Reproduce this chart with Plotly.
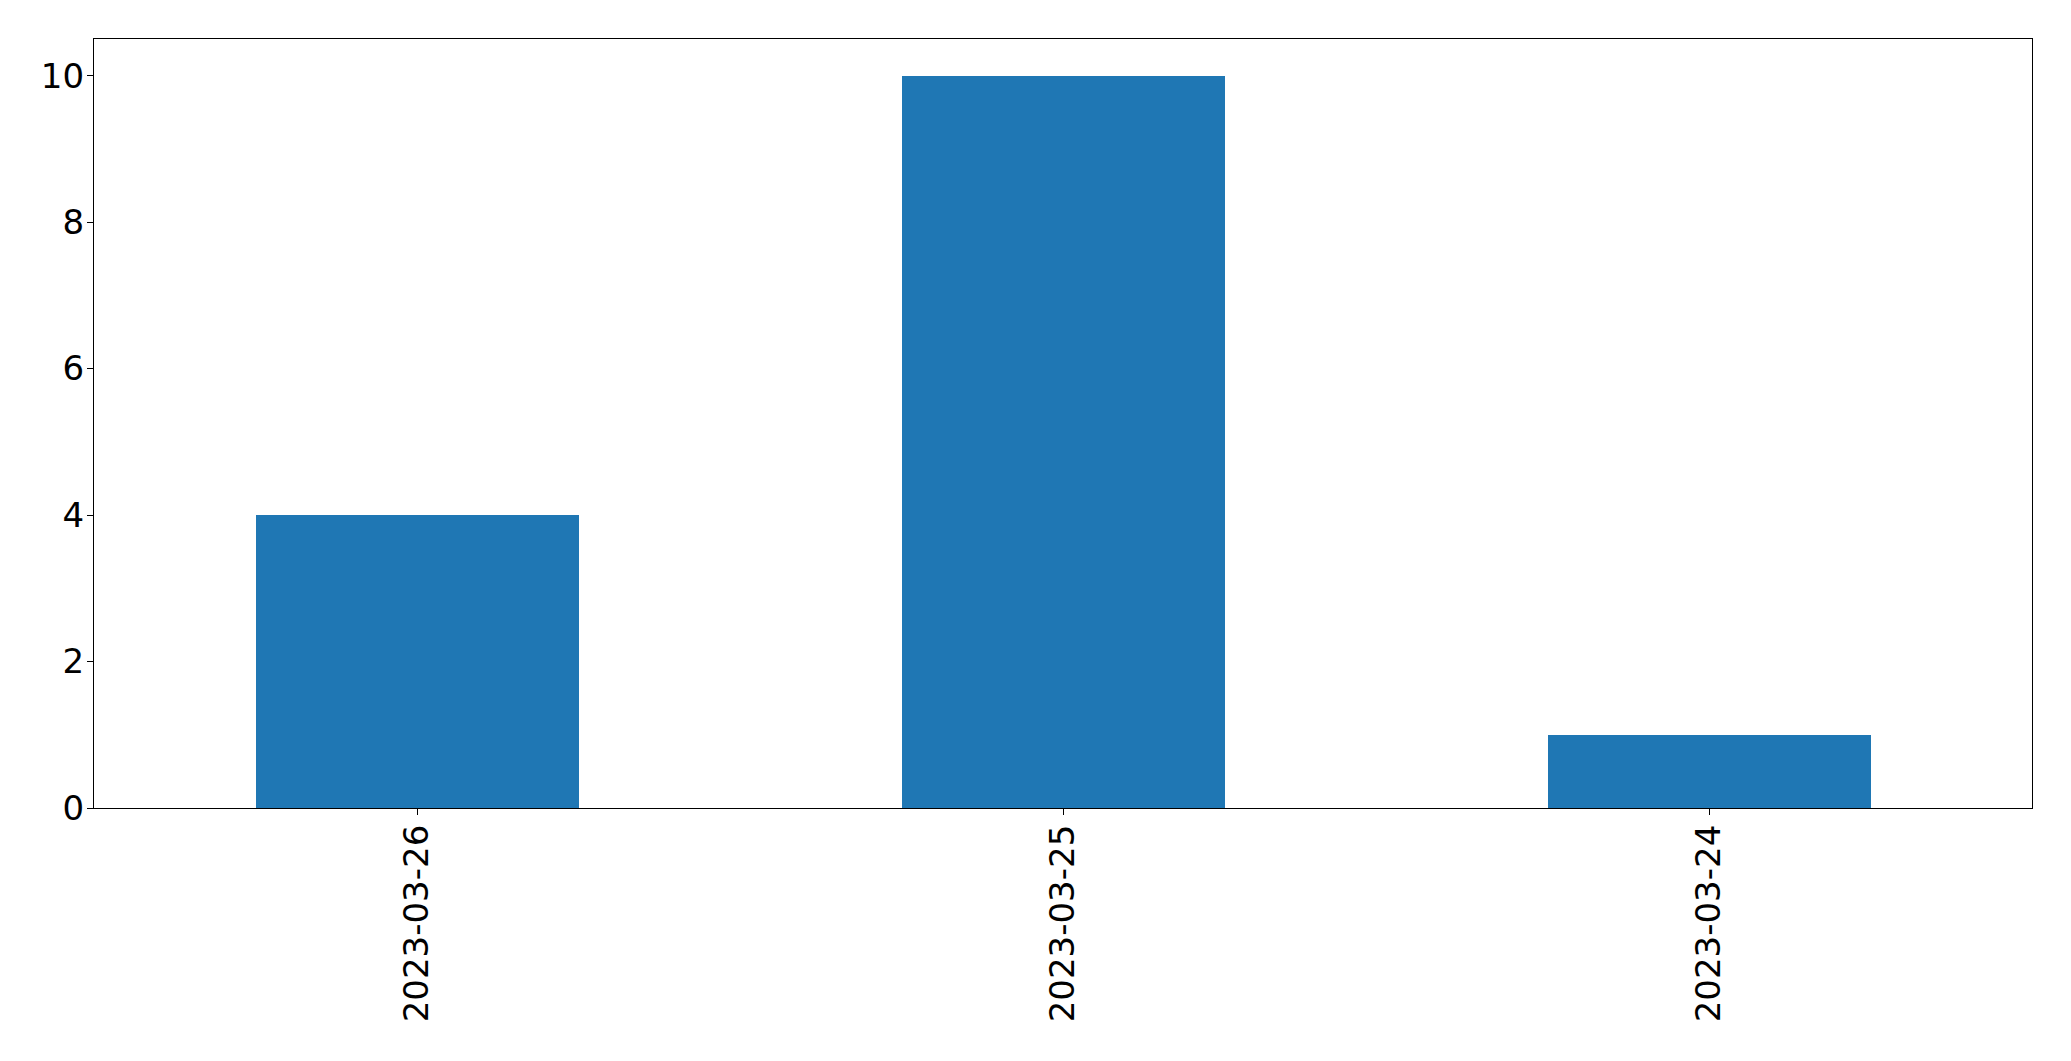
import plotly.graph_objects as go

categories = ["2023-03-26", "2023-03-25", "2023-03-24"]
values = [4, 10, 1]
y_ticks = [0, 2, 4, 6, 8, 10]

fig = go.Figure(go.Bar(
    x=categories, y=values, width=0.5,
    marker=dict(color="#1f77b4", line=dict(width=0)),
))

fig.update_layout(
    width=2071, height=1061,
    margin=dict(l=86, r=47, t=31, b=261, autoexpand=False),
    paper_bgcolor="white", plot_bgcolor="white",
    font=dict(family="DejaVu Sans", size=34, color="black"),
    showlegend=False,
    bargap=0,
)
fig.update_xaxes(
    type="category", range=[-0.5, 2.5],
    showline=True, mirror=True, linecolor="black", linewidth=1.3,
    ticks="outside", ticklen=6, tickwidth=1.3, tickcolor="black",
    tickangle=-90, showgrid=False, zeroline=False, automargin=False,
    ticklabelstandoff=-4,
)
fig.update_yaxes(
    range=[0, 10.5], tickvals=y_ticks,
    showline=True, mirror=True, linecolor="black", linewidth=1.3,
    ticks="outside", ticklen=6, tickwidth=1.3, tickcolor="black",
    showgrid=False, zeroline=False, automargin=False,
    ticklabelstandoff=-4,
)

fig.write_html("out.html")
